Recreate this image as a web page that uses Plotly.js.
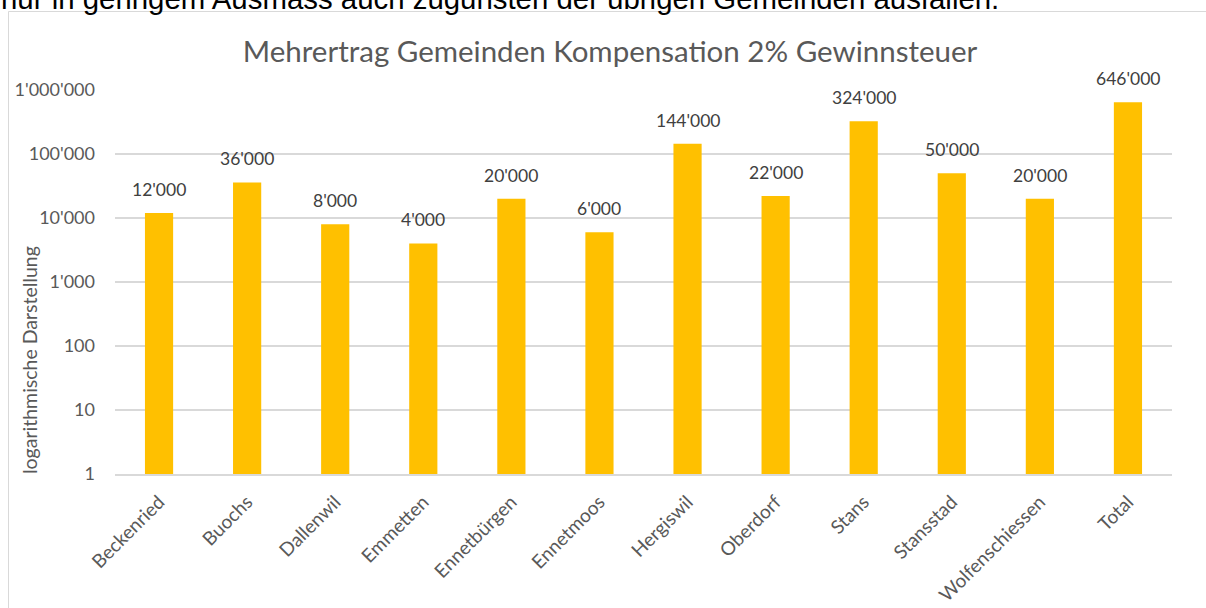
<!DOCTYPE html>
<html>
<head>
<meta charset="utf-8">
<script src="https://cdn.plot.ly/plotly-3.0.1.min.js"></script>
<style>
  html, body { margin: 0; padding: 0; background: #ffffff; }
  #chart { width: 1206px; height: 608px; }
</style>
</head>
<body>
<div id="chart"></div>
<script>
const categories = ["Beckenried", "Buochs", "Dallenwil", "Emmetten", "Ennetbürgen", "Ennetmoos", "Hergiswil", "Oberdorf", "Stans", "Stansstad", "Wolfenschiessen", "Total"];
const values = [12000, 36000, 8000, 4000, 20000, 6000, 144000, 22000, 324000, 50000, 20000, 646000];
const valueLabels = ["12'000", "36'000", "8'000", "4'000", "20'000", "6'000", "144'000", "22'000", "324'000", "50'000", "20'000", "646'000"];
const yTickVals = [1, 10, 100, 1000, 10000, 100000, 1000000];
const yTickText = ["1", "10", "100", "1'000", "10'000", "100'000", "1'000'000"];
const chartTitle = "Mehrertrag Gemeinden Kompensation 2% Gewinnsteuer";
const yTitle = "logarithmische Darstellung";
const topText = "nur in geringem Ausmass auch zugunsten der übrigen Gemeinden ausfallen.";

const W = 1206, H = 608;
const mL = 115, mR = 34, mT = 90, mB = 134;
const pw = W - mL - mR, ph = H - mT - mB;
const px = x => (x - mL) / pw;
const py = y => (H - mB - y) / ph;

const FONT = "Lato, 'Open Sans', sans-serif";

const annotations = categories.map((c, i) => ({
  x: c, y: Math.log10(values[i]), xref: 'x', yref: 'y',
  text: valueLabels[i], showarrow: false,
  xanchor: 'center', yanchor: 'bottom', yshift: 11,
  font: { family: FONT, size: 17.5, color: '#404040' }
}));

annotations.push({
  xref: 'paper', yref: 'paper', x: px(29), y: py(360),
  text: yTitle, textangle: -90, showarrow: false,
  xanchor: 'center', yanchor: 'middle',
  font: { family: FONT, size: 19.5, color: '#595959' }
});

annotations.push({
  xref: 'paper', yref: 'paper', x: px(-1), y: py(-1),
  text: topText, showarrow: false,
  xanchor: 'left', yanchor: 'middle',
  font: { family: "'Liberation Sans', Arial, sans-serif", size: 29.4, color: '#000000' }
});

const trace = {
  type: 'bar',
  x: categories,
  y: values,
  marker: { color: '#FFC000' },
  hoverinfo: 'x+y'
};

const layout = {
  width: W, height: H,
  margin: { l: mL, r: mR, t: mT, b: mB },
  paper_bgcolor: '#ffffff', plot_bgcolor: '#ffffff',
  showlegend: false,
  bargap: 0.68,
  title: {
    text: chartTitle, xref: 'container', yref: 'container',
    x: 610 / W, y: 1 - 52 / H, xanchor: 'center', yanchor: 'middle',
    font: { family: FONT, size: 29.5, color: '#595959' }
  },
  xaxis: {
    type: 'category',
    tickangle: -45,
    tickfont: { family: FONT, size: 19, color: '#595959' },
    showgrid: false,
    showline: true, linecolor: '#d9d9d9', linewidth: 1.5,
    ticks: '', zeroline: false,
    ticklabelstandoff: 8
  },
  yaxis: {
    type: 'log', range: [0, 6],
    tickvals: yTickVals, ticktext: yTickText,
    tickfont: { family: FONT, size: 18, color: '#595959' },
    showgrid: true, gridcolor: '#d9d9d9', gridwidth: 1.5,
    showline: false, zeroline: false, ticks: '',
    ticklabelstandoff: 19
  },
  shapes: [{
    type: 'rect', xref: 'paper', yref: 'paper',
    x0: px(8.5), x1: px(1215), y0: py(615), y1: py(11.5),
    line: { color: '#d9d9d9', width: 1 }, fillcolor: 'rgba(0,0,0,0)', layer: 'below'
  }],
  annotations: annotations
};

Plotly.newPlot('chart', [trace], layout, { displayModeBar: false, staticPlot: true });
</script>
</body>
</html>
